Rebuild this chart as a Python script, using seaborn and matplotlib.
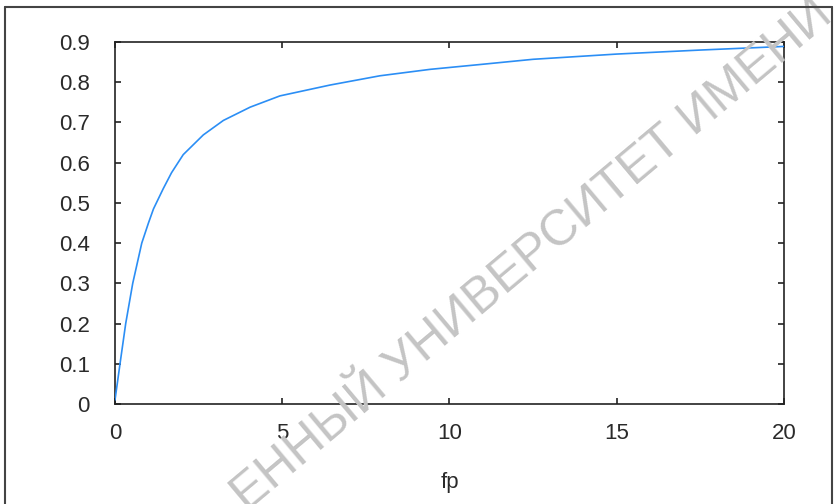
import matplotlib
matplotlib.use("Agg")
import matplotlib.pyplot as plt
import seaborn as sns
import pandas as pd
from matplotlib.lines import Line2D

fp = [0, 0.15, 0.32, 0.53, 0.8, 1.0, 1.15, 1.44, 1.69, 2.04, 2.64, 3.24, 4.04,
      4.93, 6.43, 7.92, 9.42, 10.91, 12.5, 15, 17.5, 20]
value = [0.01, 0.10, 0.20, 0.30, 0.40, 0.45, 0.485, 0.535, 0.575, 0.620, 0.669, 0.705,
         0.738, 0.766, 0.793, 0.816, 0.832, 0.844, 0.857, 0.870, 0.880, 0.889]
x_ticks = [0, 5, 10, 15, 20]
y_ticks = [0, 0.1, 0.2, 0.3, 0.4, 0.5, 0.6, 0.7, 0.8, 0.9]
x_label = "fp"
watermark = "ЕННЫЙ УНИВЕРСИТЕТ ИМЕНИ"

sns.set_theme(style="ticks")
plt.rcParams['font.family'] = ['Liberation Sans', 'DejaVu Sans']

df = pd.DataFrame({"fp": fp, "value": value})

fig = plt.figure(figsize=(8.37, 5.04), dpi=100)
ax = fig.add_axes([115/837, 1 - 404/504, (784-115)/837, (404-42)/504])

sns.lineplot(data=df, x="fp", y="value", ax=ax, color="#2b8ef5", linewidth=1.2, zorder=3)

ax.set_xlim(0, 20)
ax.set_ylim(0, 0.9)
ax.set_xticks(x_ticks)
ax.set_xticklabels([str(t) for t in x_ticks])
ax.set_yticks(y_ticks)
ax.set_yticklabels(["0" if t == 0 else f"{t:.1f}" for t in y_ticks])
ax.set_xlabel(x_label, fontsize=16, color="#2a2a2a", labelpad=20)
ax.set_ylabel("")

for s in ax.spines.values():
    s.set_visible(True)
    s.set_color("#222222")
    s.set_linewidth(1.2)
ax.tick_params(axis="both", which="both", direction="in", length=4, width=1.2,
               colors="#222222", labelsize=16, top=True, right=True)
ax.tick_params(axis="both", labelcolor="#2a2a2a")
ax.tick_params(axis="y", pad=18)
ax.tick_params(axis="x", pad=14)

# outer frame
fig.add_artist(Line2D([5/837, 5/837], [0, 1 - 7/504], transform=fig.transFigure,
                      color="#444444", linewidth=1.5))
fig.add_artist(Line2D([5/837, 832/837], [1 - 7/504, 1 - 7/504], transform=fig.transFigure,
                      color="#444444", linewidth=1.5))
fig.add_artist(Line2D([832/837, 832/837], [0, 1 - 7/504], transform=fig.transFigure,
                      color="#444444", linewidth=1.5))

fig.text(532/837, 1 - 256/504, watermark, fontsize=36, color="#c4c4c4",
         rotation=40, ha="center", va="center", rotation_mode="anchor", zorder=1)

fig.savefig("out.png", dpi=100)
